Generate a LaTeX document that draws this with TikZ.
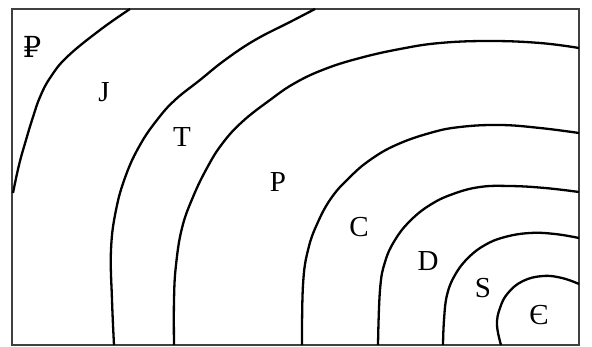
\documentclass[tikz,border=0pt]{standalone}
\usepackage{fontspec}
\setmainfont{Liberation Serif}
\newfontfamily\symfont{DejaVu Serif}
\begin{document}
\begin{tikzpicture}[x=1pt,y=-1pt,
  contour/.style={line width=2.3pt, line join=round},
  frame/.style={line width=1.3pt, draw=black!75},
  lbl/.style={font=\fontsize{29}{29}\selectfont, inner sep=0pt}]
\useasboundingbox (0,0) rectangle (592,347);
\draw[frame] (12,9) rectangle (579,345);
\draw[contour] plot[smooth, tension=0.7] coordinates {(130,9) (100,30) (67,57) (50,78) (40,97) (33,117) (26,140) (19,165) (13,193)};
\draw[contour] plot[smooth, tension=0.7] coordinates {(315,9) (290,22) (255,40) (225,60) (200,80) (175,100) (157,120) (140,145) (126,175) (116,210) (111,250) (112,300) (114,345)};
\draw[contour] plot[smooth, tension=0.7] coordinates {(579,48) (540,43) (490,41) (440,43) (400,49) (360,58) (325,69) (295,83) (270,100) (242,122) (222,144) (207,168) (193,197) (182,228) (176,265) (174,300) (174,345)};
\draw[contour] plot[smooth, tension=0.7] coordinates {(579,133) (540,128) (500,125) (460,127) (430,133) (396,145) (370,160) (350,177) (332,197) (318,222) (308,250) (303,285) (302,345)};
\draw[contour] plot[smooth, tension=0.7] coordinates {(579,192) (545,188) (510,186) (480,187) (453,194) (430,205) (410,221) (395,240) (385,262) (380,290) (378,345)};
\draw[contour] plot[smooth, tension=0.7] coordinates {(579,238) (555,234) (530,233) (505,237) (485,245) (468,258) (455,275) (447,295) (444,320) (443,345)};
\draw[contour] plot[smooth, tension=0.7] coordinates {(579,284) (562,278) (543,276) (523,281) (508,293) (500,308) (497,325) (501,345)};
\node[lbl] (pg) at (32,47) {\symfont ₽};
\node[lbl] (j) at (104,92) {J};
\node[lbl] (t) at (182,137) {T};
\node[lbl] (p) at (278,182) {P};
\node[lbl] (c) at (359,227) {C};
\node[lbl] (d) at (428,261) {D};
\node[lbl] (s) at (483,288) {S};
\node[lbl] (cm) at (539,315) {Є};
\end{tikzpicture}
\end{document}
